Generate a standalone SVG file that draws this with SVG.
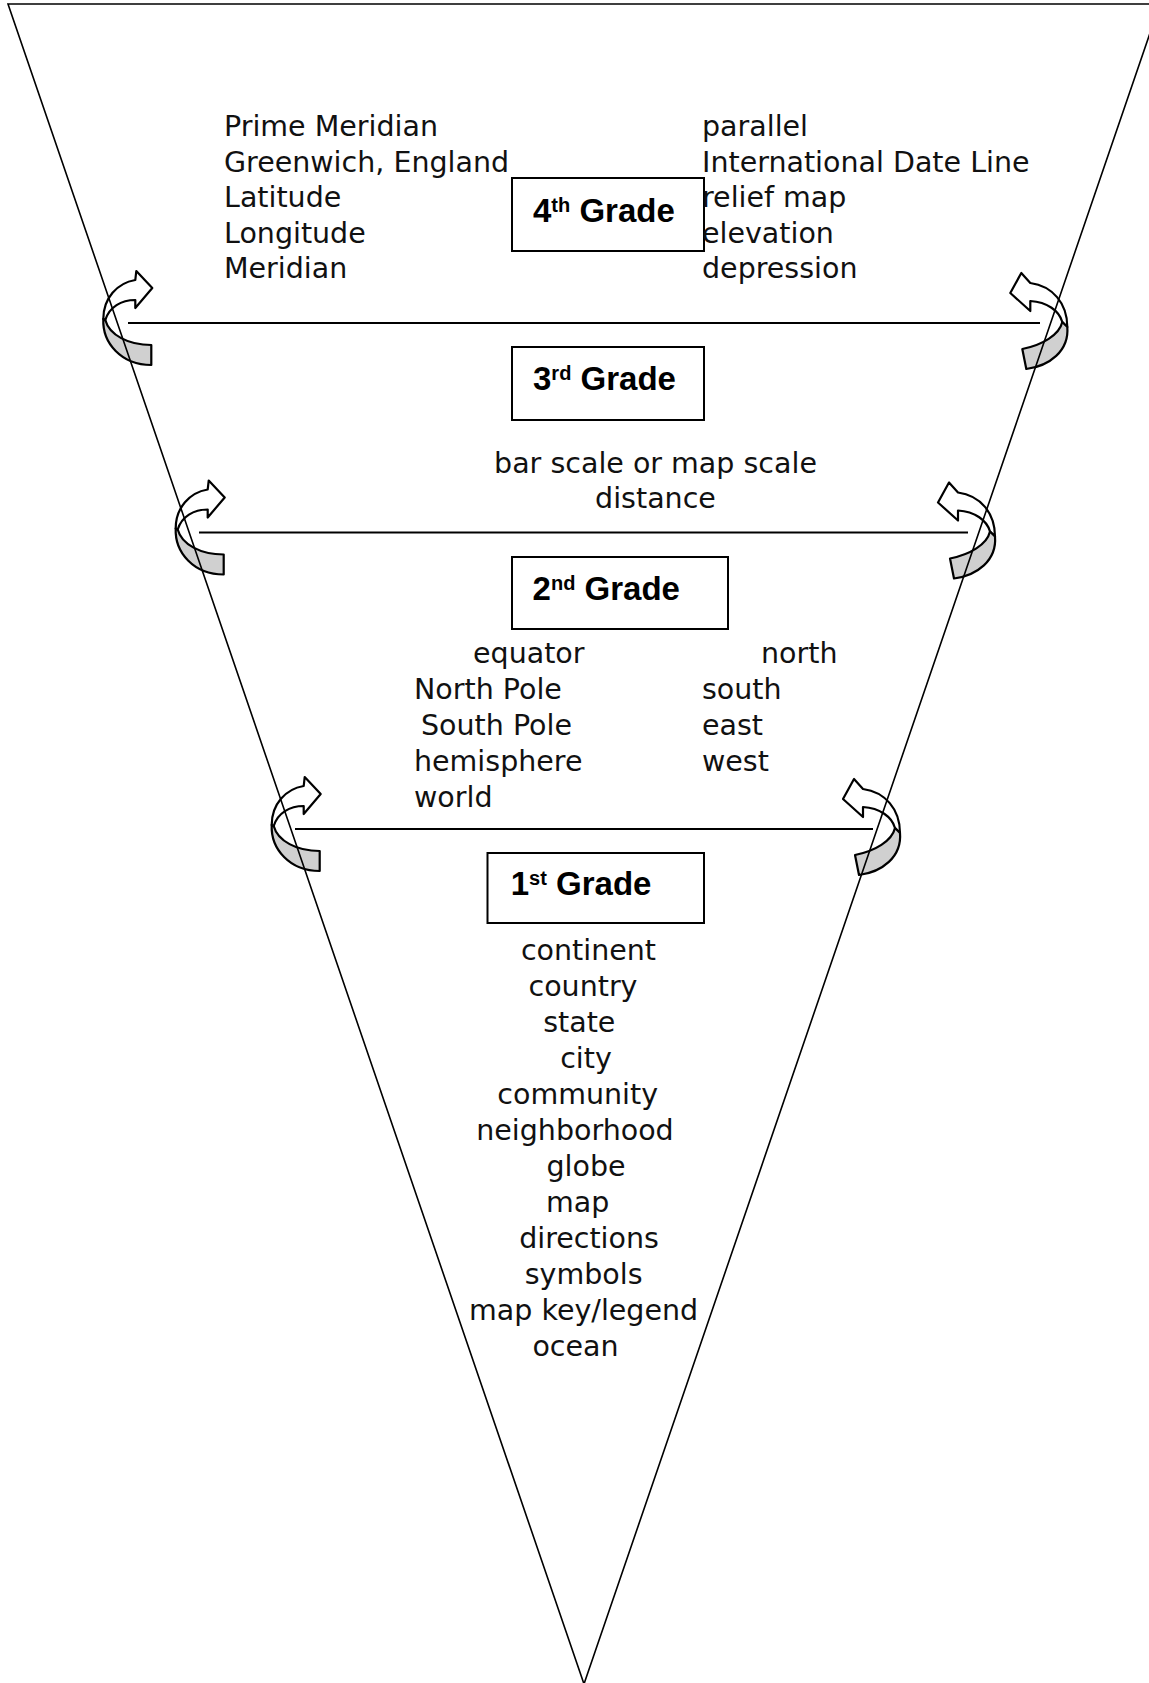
<svg xmlns="http://www.w3.org/2000/svg" width="1149" height="1683" viewBox="0 0 1149 1683">
<style>
.t{font-family:"DejaVu Sans","Liberation Sans",sans-serif;font-size:28.5px;fill:#111}
.c{text-anchor:middle}
.g{font-family:"Liberation Sans",Arial,sans-serif;font-size:33px;font-weight:bold;fill:#000}
.sup{font-size:20px}
.box{fill:#fff;stroke:#000;stroke-width:2}
.ln{stroke:#000;stroke-width:2;fill:none}
.aw{fill:#fff;stroke:#000;stroke-width:2.2;stroke-linejoin:round}
.ag{fill:#d0d0d0;stroke:#000;stroke-width:2.2;stroke-linejoin:round}
</style>
<defs>
<g id="arrowL">
<path class="aw" d="M0,-4 C0,-25 14,-40 32,-43 L33,-52 L49,-35 L32,-15 L32,-23 C18,-23 6,-16 2,-3 Z"/>
<path class="ag" d="M0,-4 C-1,20 18,42 48,42 L48,22 C25,22 6,12 2,-3 Z"/>
</g>
<g id="arrowR">
<path class="aw" d="M0,4 C0,-20 -15,-37 -37,-40 L-46,-50 L-57,-30 L-37,-12 L-37,-22 C-20,-21 -8,-12 -5,-1 Z"/>
<path class="ag" d="M0,4 C2,28 -18,43 -41,46 L-45,26 C-25,22 -8,12 -5,-1 Z"/>
</g>
</defs>
<rect width="1149" height="1683" fill="#fff"/>
<g id="connectors">
<line class="ln" x1="128" y1="323" x2="1040" y2="323"/>
<line class="ln" x1="199" y1="532.5" x2="968" y2="532.5"/>
<line class="ln" x1="295" y1="829" x2="873" y2="829"/>
<use href="#arrowL" x="103.3" y="323"/>
<use href="#arrowR" x="1067.3" y="323"/>
<use href="#arrowL" x="175.7" y="532.5"/>
<use href="#arrowR" x="995" y="532.5"/>
<use href="#arrowL" x="271.7" y="829"/>
<use href="#arrowR" x="900" y="829"/>
</g>
<g id="funnel">
<polygon points="8,4 1160,4 584,1684" fill="none" stroke="#000" stroke-width="1.6"/>
</g>
<g id="grade4">
<rect class="box" x="512" y="178" width="192" height="73"/>
<text class="g" x="533" y="222">4<tspan class="sup" dy="-10">th</tspan><tspan dy="10"> Grade</tspan></text>
<text class="t" x="224" y="136">Prime Meridian</text>
<text class="t" x="224" y="171.5">Greenwich, England</text>
<text class="t" x="224" y="207">Latitude</text>
<text class="t" x="224" y="242.5">Longitude</text>
<text class="t" x="224" y="278">Meridian</text>
<text class="t" x="702" y="136">parallel</text>
<text class="t" x="702" y="171.5">International Date Line</text>
<text class="t" x="702" y="207">relief map</text>
<text class="t" x="702" y="242.5">elevation</text>
<text class="t" x="702" y="278">depression</text>
</g>
<g id="grade3">
<rect class="box" x="512" y="347" width="192" height="73"/>
<text class="g" x="533" y="390">3<tspan class="sup" dy="-10">rd</tspan><tspan dy="10"> Grade</tspan></text>
<text class="t c" x="655.5" y="472.5">bar scale or map scale</text>
<text class="t c" x="655.5" y="508">distance</text>
</g>
<g id="grade2">
<rect class="box" x="512" y="557" width="216" height="72"/>
<text class="g" x="532.6" y="600">2<tspan class="sup" dy="-10">nd</tspan><tspan dy="10"> Grade</tspan></text>
<text class="t" x="473" y="662.5">equator</text>
<text class="t" x="414" y="699">North Pole</text>
<text class="t" x="421" y="734.5">South Pole</text>
<text class="t" x="414" y="771">hemisphere</text>
<text class="t" x="414" y="806.5">world</text>
<text class="t" x="761" y="662.5">north</text>
<text class="t" x="702" y="699">south</text>
<text class="t" x="702" y="734.5">east</text>
<text class="t" x="702" y="771">west</text>
</g>
<g id="grade1">
<rect class="box" x="487.5" y="853" width="216.5" height="70"/>
<text class="g" x="510.7" y="895">1<tspan class="sup" dy="-10">st</tspan><tspan dy="10"> Grade</tspan></text>
<text class="t c" x="588.5" y="960">continent</text>
<text class="t c" x="583" y="995.5">country</text>
<text class="t c" x="579.3" y="1031.5">state</text>
<text class="t c" x="586" y="1068">city</text>
<text class="t c" x="577.7" y="1104">community</text>
<text class="t c" x="575" y="1140">neighborhood</text>
<text class="t c" x="586" y="1176">globe</text>
<text class="t c" x="577.7" y="1212">map</text>
<text class="t c" x="589" y="1248">directions</text>
<text class="t c" x="583.6" y="1284">symbols</text>
<text class="t c" x="583.6" y="1320">map key/legend</text>
<text class="t c" x="575.5" y="1356">ocean</text>
</g>
</svg>
